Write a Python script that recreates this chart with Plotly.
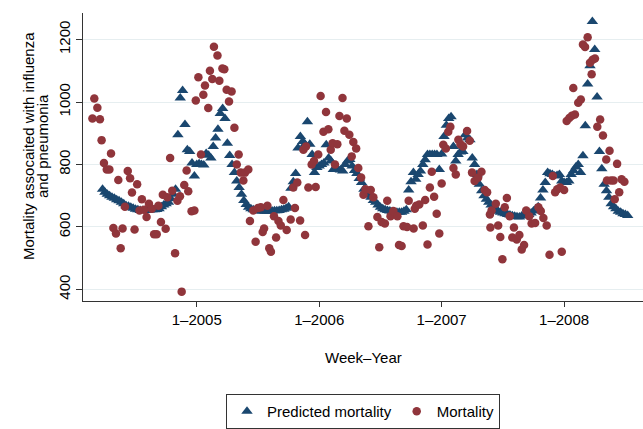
import plotly.graph_objects as go

# Week index: weeks relative to week 1 of 2005 (0 = 1-2005, 52 = 1-2006, ...)
tick_weeks = [0, 52, 104, 156]
tick_labels = ["1–2005", "1–2006", "1–2007", "1–2008"]

# Predicted mortality, one value per week starting at week -40
pred_start = -40
predicted = [
    721, 711, 705, 700, 695, 692, 687, 684, 679, 674,
    668, 666, 663, 660, 657, 655, 653, 653, 653, 653,
    654, 655, 655, 656, 658, 665, 670, 674, 679, 690,
    705, 721, 895, 1013, 1037, 928, 847, 842, 805, 763,
    # 2005
    800, 802, 800, 798, 835, 830, 821, 858, 885, 913,
    963, 979, 947, 868, 829, 800, 774, 747, 726, 705,
    685, 672, 663, 658, 655, 653, 652, 651, 651, 650,
    650, 650, 651, 652, 652, 653, 655, 657, 660, 665,
    724, 745, 771, 853, 890, 874, 865, 937, 865, 832,
    774, 790,
    # 2006
    795, 800, 805, 863, 821, 811, 784, 784, 784, 782,
    779, 800, 811, 816, 795, 781, 771, 755, 742, 721,
    710, 702, 695, 685, 679, 670, 663, 658, 655, 653,
    651, 649, 648, 647, 647, 647, 650, 655, 718, 745,
    774, 753, 768, 779, 800, 815, 832, 832,
    # 2007
    832, 832, 832, 784, 834, 890, 926, 947, 953, 858,
    811, 832, 840, 842, 895, 885, 879, 821, 800, 768,
    737, 716, 700, 689, 679, 670, 663, 658, 650, 647,
    645, 642, 640, 638, 636, 634, 633, 632, 635, 637,
    638, 640, 645, 651, 658, 665, 693, 718, 742, 774,
    770, 768,
    # 2008
    763, 765, 768, 747, 742, 742, 747, 768, 780, 792,
    800, 774, 828, 924, 1058, 1116, 1258, 1168, 1016, 842,
    786, 737, 716, 695, 674, 665, 658, 650, 647, 642,
    640, 637,
]
pred_weeks = list(range(pred_start, pred_start + len(predicted)))

mort_weeks = [
    -44.3, -43.5, -42.2, -41.1, -40.4, -39.4, -38.2, -37.1, -36.4, -35.4,
    -34.3, -33.3, -32.3, -31.5, -30.5, -29.3, -28.3, -27.5, -26.4, -25.3,
    -24.3, -23.3, -22.4, -21.3, -20.3, -19.1, -18.1, -17.0, -16.3, -15.2,
    -14.4, -13.2, -12.5, -11.3, -10.4, -9.2, -8.2, -7.1, -6.4, -5.3,
    -4.3, -3.6, -2.2, -1.0, -0.4,
    0.7, 1.8, 2.8, 3.5, 4.9, 5.6, 6.6, 7.3, 8.8, 9.6,
    10.9, 11.7, 12.7, 13.7, 14.8, 16.0, 17.0, 17.8, 18.7, 19.8,
    20.5, 21.9, 22.6, 24.0, 25.0, 26.0, 27.2, 28.0, 28.6, 30.0,
    30.8, 31.5, 32.8, 33.7, 34.7, 35.7, 36.8, 38.2, 39.9, 41.0,
    41.7, 42.7, 43.9, 45.3, 46.0, 46.4, 47.4,
    48.8, 49.8, 50.5, 51.6, 52.6, 53.8, 54.9, 55.9, 56.9, 57.7,
    58.7, 59.7, 60.6, 61.9, 62.7, 63.7, 64.8, 65.8, 66.5, 67.7,
    68.6, 69.8, 70.8, 71.7, 72.9, 73.9, 75.0, 76.7, 77.5, 78.5,
    79.9, 80.9, 82.3, 83.5, 85.2, 85.9, 87.0, 87.8, 89.3, 90.0,
    92.1, 92.6, 93.2,
    94.5, 96.0, 97.0, 98.0, 99.0, 99.8, 100.8, 101.9, 103.0, 104.0,
    104.7, 105.8, 106.8, 107.7, 109.0, 110.0, 111.1, 112.0, 113.1, 114.8,
    115.9, 116.9, 118.0, 119.5, 120.9, 122.3, 123.3, 124.5, 124.7, 125.2,
    127.0, 128.0, 128.9, 129.8, 130.8, 131.7, 132.9, 134.0, 134.7, 135.9,
    137.0, 138.0, 139.0, 139.9, 141.2,
    142.2, 143.7, 145.1, 146.1, 147.2, 148.6, 149.8, 151.2, 152.2, 153.1,
    154.3, 155.0, 156.0, 157.1, 158.2, 159.3, 159.9, 160.6, 162.0, 163.1,
    164.0, 164.9, 166.0, 167.0, 167.7, 168.1, 169.1, 170.1, 171.3, 172.5,
    173.9, 174.2, 175.3, 175.9, 177.0, 177.5, 178.5, 179.4, 180.4, 181.6,
]
mortality = [
    947, 1011, 982, 945, 878, 805, 784, 784, 835, 597,
    579, 750, 532, 595, 665, 779, 756, 710, 592, 737,
    653, 689, 655, 632, 674, 658, 577, 577, 668, 616,
    703, 594, 695, 821, 716, 516, 684, 698, 393, 734,
    781, 714, 650, 653, 1005,
    1079, 832, 1023, 1053, 981, 1100, 1074, 1177, 1149, 1068,
    1107, 1105, 1039, 1002, 1034, 918, 800, 832, 774, 749,
    774, 784, 619, 653, 553, 661, 663, 584, 595, 668,
    532, 521, 634, 566, 619, 605, 686, 590, 624, 726,
    661, 742, 621, 847, 574, 858, 726,
    800, 811, 728, 832, 1019, 905, 968, 913, 847, 868,
    800, 865, 955, 1013, 908, 947, 895, 826, 872, 851,
    789, 758, 703, 721, 602, 718, 695, 632, 535, 616,
    611, 684, 634, 651, 634, 542, 539, 602, 600, 684,
    595, 658, 668,
    672, 605, 686, 544, 726, 777, 697, 642, 579, 739,
    863, 851, 905, 921, 789, 768, 879, 865, 858, 907,
    876, 774, 747, 758, 777, 718, 711, 640, 598, 653,
    674, 605, 568, 497, 663, 693, 634, 566, 598, 560,
    574, 528, 542, 653, 634,
    611, 613, 663, 651, 629, 605, 511, 763, 711, 721,
    726, 521, 718, 939, 949, 956, 1045, 960, 998, 1008,
    1184, 1176, 1207, 1126, 1089, 1135, 1139, 921, 944, 893,
    816, 749, 844, 749, 749, 689, 802, 711, 753, 745,
]

y_ticks = [400, 600, 800, 1000, 1200]

FONT = "Liberation Sans, Arial, Helvetica, sans-serif"
NAVY = "#1a476f"
MAROON = "#90353b"

fig = go.Figure()
fig.add_trace(go.Scatter(
    x=pred_weeks, y=predicted, mode="markers", name="Predicted mortality",
    marker=dict(symbol="triangle-up", size=10, color=NAVY),
))
fig.add_trace(go.Scatter(
    x=mort_weeks, y=mortality, mode="markers", name="Mortality",
    marker=dict(symbol="circle", size=8.5, color=MAROON),
))

fig.update_layout(
    width=643, height=429,
    margin=dict(l=83, r=0, t=13, b=124),
    paper_bgcolor="white", plot_bgcolor="white",
    font=dict(family=FONT, size=15, color="#000"),
    showlegend=True,
    legend=dict(
        orientation="h", x=0.5, xanchor="center", y=-0.325, yanchor="top",
        bordercolor="#333", borderwidth=1, font=dict(size=15),
        itemwidth=30, tracegroupgap=0,
    ),
    xaxis=dict(
        range=[-48.3, 189.5], tickvals=tick_weeks, ticktext=tick_labels,
        ticks="outside", ticklen=5, tickcolor="#333", tickwidth=1,
        showline=True, linecolor="#333", linewidth=1.3,
        showgrid=False, zeroline=False,
        tickfont=dict(size=15, family=FONT, color="#000"),
    ),
    yaxis=dict(
        range=[363, 1285], tickvals=y_ticks, tickangle=-90,
        ticks="outside", ticklen=6, tickcolor="#333", tickwidth=1,
        showline=True, linecolor="#333", linewidth=1.3,
        showgrid=True, gridcolor="#e6eef0", gridwidth=1, zeroline=False,
        tickfont=dict(size=15, family=FONT, color="#000"),
    ),
    annotations=[
        dict(text="Week–Year", xref="paper", yref="paper", x=0.5, y=-0.195,
             xanchor="center", yanchor="middle", showarrow=False,
             font=dict(size=15, family=FONT, color="#000")),
        dict(text="Mortality assocaited with influenza", xref="paper", yref="paper",
             x=-0.0982, y=0.538, xanchor="center", yanchor="middle",
             textangle=-90, showarrow=False,
             font=dict(size=15, family=FONT, color="#000")),
        dict(text="and pneumonia", xref="paper", yref="paper",
             x=-0.0732, y=0.538, xanchor="center", yanchor="middle",
             textangle=-90, showarrow=False,
             font=dict(size=15, family=FONT, color="#000")),
    ],
)

fig.write_html("out.html")
